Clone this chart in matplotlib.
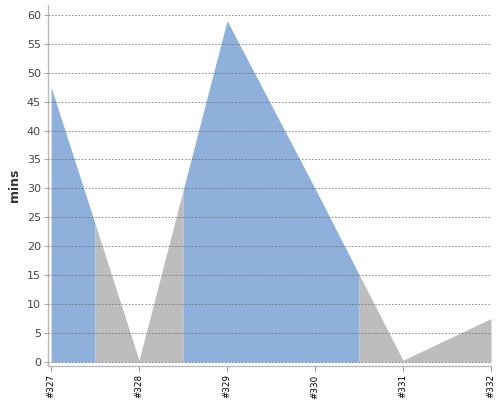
import numpy as np
import matplotlib
matplotlib.use("Agg")
import matplotlib.pyplot as plt

# build trend data (minutes per build)
builds = ["#327", "#328", "#329", "#330", "#331", "#332"]
durations = [47.5, 0.3, 59.0, 30.0, 0.3, 7.5]
status = ["ok", "fail", "ok", "ok", "fail", "fail"]

colors = {"ok": "#8eb0da", "fail": "#bdbdbd"}

xs = np.arange(len(builds))

fig = plt.figure(figsize=(5, 4), dpi=100)
ax = fig.add_axes([0.096, 0.085, 0.886, 0.9025])

# group neighbouring builds with the same status, each build covers +-0.5
runs = []
start = 0
for i in range(1, len(status) + 1):
    if i == len(status) or status[i] != status[start]:
        runs.append((start, i - 1, status[start]))
        start = i

for a, b, st in runs:
    lo = max(a - 0.5, xs[0])
    hi = min(b + 0.5, xs[-1])
    seg = np.unique(np.concatenate([[lo], xs[a:b + 1], [hi]]).astype(float))
    ax.fill_between(seg, 0, np.interp(seg, xs, durations),
                    color=colors[st], linewidth=0, zorder=2)

ax.set_xlim(-0.035, xs[-1])
ax.set_ylim(-0.7, 61.7)
ax.set_yticks(np.arange(0, 61, 5))
ax.set_xticks(xs)
ax.set_xticklabels(builds, rotation=90, fontsize=6.3, color="black")

ax.yaxis.grid(True, linestyle=(0, (2, 2)), color="#666666", linewidth=0.6, alpha=0.85)
ax.set_axisbelow(False)

ax.tick_params(axis="y", labelsize=8, labelcolor="#444444", color="#aaaaaa",
               length=3, pad=2)
ax.tick_params(axis="x", color="#aaaaaa", length=4, pad=2)

for side in ["top", "right"]:
    ax.spines[side].set_visible(False)
for side in ["left", "bottom"]:
    ax.spines[side].set_color("#bbbbbb")
    ax.spines[side].set_linewidth(1.0)

ax.set_ylabel("mins", fontsize=9, fontweight="bold", color="#333333", labelpad=4)

fig.savefig("out.png", dpi=100)
